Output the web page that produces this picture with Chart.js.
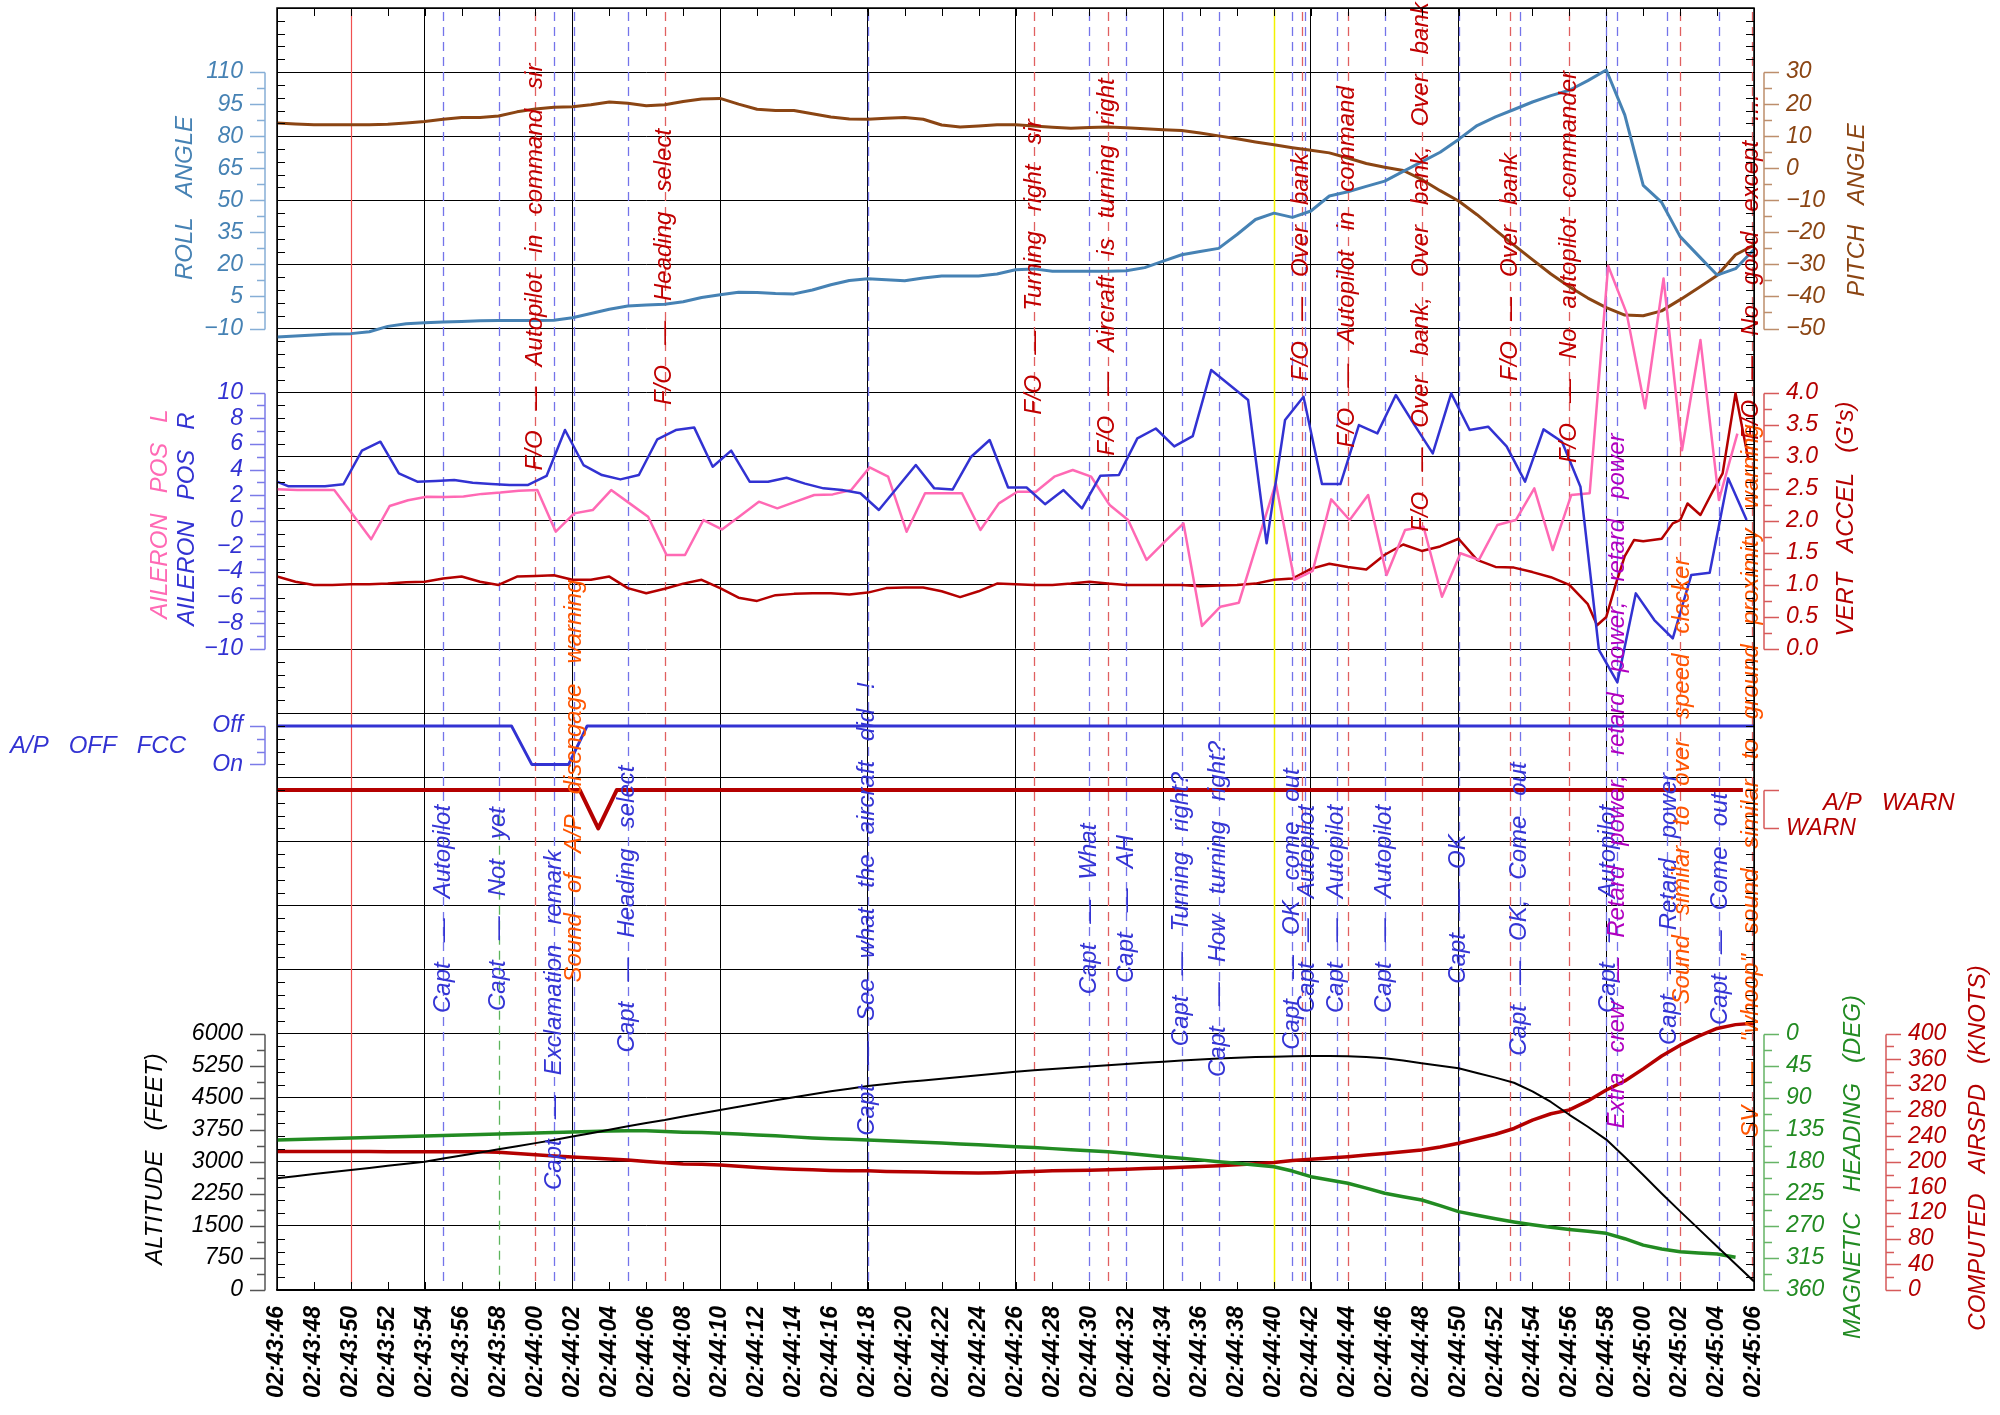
<!DOCTYPE html>
<html>
<head>
<meta charset="utf-8">
<title>FDR replay</title>
<script src="https://cdn.jsdelivr.net/npm/chart.js@4.4.1/dist/chart.umd.min.js"></script>
<style>
  html, body { margin: 0; padding: 0; background: #fff; }
  #wrap { width: 2000px; height: 1415px; }
</style>
</head>
<body>
<div id="wrap"><canvas id="fdr" width="2000" height="1415"></canvas></div>
<script>
// seconds after 02:43:46
const secs = Array.from({ length: 81 }, (_, i) => i);

const xTickLabels = ['02:43:46','02:43:48','02:43:50','02:43:52','02:43:54','02:43:56','02:43:58',
  '02:44:00','02:44:02','02:44:04','02:44:06','02:44:08','02:44:10','02:44:12','02:44:14','02:44:16',
  '02:44:18','02:44:20','02:44:22','02:44:24','02:44:26','02:44:28','02:44:30','02:44:32','02:44:34',
  '02:44:36','02:44:38','02:44:40','02:44:42','02:44:44','02:44:46','02:44:48','02:44:50','02:44:52',
  '02:44:54','02:44:56','02:44:58','02:45:00','02:45:02','02:45:04','02:45:06'];

const rollV = [-14,-13.5,-13,-12.6,-12.4,-11.5,-9,-7.8,-7.3,-7,
  -6.7,-6.4,-6.3,-6.3,-6.3,-6.1,-5,-3,-1,0.5,
  1,1.3,2.5,4.5,5.8,7,6.8,6.4,6.2,8,
  10.5,12.5,13.3,12.8,12.3,13.6,14.6,14.6,14.6,15.5,
  17.5,17.9,16.8,16.8,16.8,16.8,17,18.5,21.5,24.5,
  26,27.5,34,41,44,42,45,52,54,56.5,
  59,63.5,68,72.5,78.5,85,89,92.5,96,99,
  101.5,106,111,90,57,49,33,24,15,18,27];

const pitchV = [14.1,13.8,13.6,13.6,13.6,13.6,13.7,14.1,14.6,15.3,
  15.8,15.8,16.3,17.6,18.5,19,19.2,19.8,20.7,20.3,
  19.5,19.8,20.8,21.6,21.8,20,18.4,18,18,17,
  16,15.4,15.3,15.6,15.8,15.3,13.5,12.9,13.2,13.6,
  13.6,13.2,12.8,12.5,12.7,12.9,12.6,12.3,12,11.8,
  11,10.1,9.2,8.2,7.3,6.4,5.6,4.8,3.2,1.5,
  0.3,-0.7,-3.5,-7,-10.2,-14.5,-19.3,-24,-28.5,-33,
  -37,-40.5,-43.5,-45.8,-46,-44.5,-41,-37.3,-33.5,-27,-24];

const ailRT = [0].concat(Array.from({ length: 80 }, (_, k) => k + 0.6));
const ailRV = [3.05,
  2.7,2.7,2.7,2.85,5.47,6.17,3.7,3.05,3.1,3.18,
  2.97,2.87,2.8,2.8,3.5,7.08,4.35,3.57,3.23,3.57,
  6.36,7.08,7.27,4.22,5.47,3.05,3.05,3.36,2.9,2.53,
  2.4,2.15,0.84,2.6,4.35,2.53,2.45,5.0,6.3,2.6,
  2.6,1.3,2.4,0.97,3.52,3.57,6.43,7.2,5.8,6.6,
  11.76,10.6,9.42,-1.76,7.86,9.68,2.87,2.87,7.47,6.82,
  9.81,7.5,5.26,9.94,7.08,7.34,5.8,3.05,7.13,6.17,
  2.66,-10.07,-12.6,-5.66,-7.74,-9.17,-4.23,-4.05,3.31,0.06];

const ailLT = Array.from({ length: 80 }, (_, k) => (k === 0 ? 0 : k + 0.1));
const ailLV = [2.46,2.4,2.4,2.4,0.5,-1.44,1.15,1.6,1.88,1.85,
  1.9,2.1,2.2,2.35,2.4,-0.85,0.58,0.84,2.4,1.36,
  0.32,-2.67,-2.67,0.06,-0.67,0.4,1.49,0.97,1.5,2.01,
  2.06,2.4,4.17,3.44,-0.85,2.15,2.15,2.15,-0.72,1.36,
  2.27,2.27,3.44,3.96,3.44,1.23,0.06,-3.05,-1.6,-0.2,
  -8.2,-6.7,-6.39,-1.7,2.93,-4.6,-3.9,1.67,0.06,2.01,
  -4.23,-0.72,-0.46,-5.92,-2.53,-3.05,-0.33,0.06,2.53,-2.28,
  2.01,2.15,19.9,16.2,8.78,18.9,5.5,14.1,1.62,6.8];

const vaccT = Array.from({ length: 72 }, (_, i) => i)
  .concat([71.5,72,72.5,73,73.5,74,75,75.6,76,76.4,77.1,77.8,78.3,79,79.7]);
const vaccV = [1.13,1.05,1.0,1.0,1.01,1.01,1.02,1.04,1.05,1.1,
  1.13,1.05,1.0,1.13,1.14,1.15,1.08,1.08,1.13,0.95,
  0.87,0.94,1.02,1.08,0.95,0.8,0.75,0.84,0.86,0.87,
  0.87,0.85,0.88,0.95,0.96,0.96,0.9,0.81,0.9,1.02,
  1.01,1.0,1.0,1.02,1.05,1.02,1.0,1.0,1.0,1.0,
  0.98,0.99,1.0,1.02,1.08,1.1,1.25,1.33,1.28,1.24,
  1.47,1.63,1.53,1.6,1.72,1.39,1.28,1.27,1.2,1.12,
  1.0,0.7,
  0.37,0.5,1.0,1.45,1.7,1.68,1.72,1.96,2.01,2.27,2.09,2.48,2.74,3.99,2.95];

const apOffT = [0, 12.7, 13.8, 15.8, 16.8, 80];
const apOffV = [1, 1, 0, 0, 1, 1];          // 1 = Off, 0 = On
const apWarnT = [0, 16.4, 17.4, 18.4, 79.4];
const apWarnV = [0, 0, 1, 0, 0];            // 1 = WARN

const altV = [2614,2663,2712,2760,2808,2857,2905,2954,3003,3075,
  3148,3220,3292,3365,3437,3510,3590,3670,3750,3830,
  3910,3980,4060,4135,4212,4290,4365,4440,4510,4580,
  4650,4712,4774,4820,4865,4905,4945,4985,5025,5067,
  5109,5140,5170,5200,5230,5260,5290,5317,5343,5370,
  5395,5415,5435,5450,5460,5470,5475,5476,5470,5450,
  5422,5370,5305,5250,5188,5080,4970,4850,4650,4400,
  4100,3820,3520,3110,2690,2260,1840,1430,1020,610,200];

const hdgV = [149.4,148.8,148,147.3,146.6,146,145.3,144.5,143.8,143,
  142.2,141.5,140.8,140.1,139.5,139,138.3,137.5,136.8,136.3,
  136.5,137.5,138.5,139,140,141,142.5,143.5,145,146.5,
  147.5,148.5,149.4,150.5,151.5,152.5,153.7,155,156.2,157.5,
  158.8,160,161.5,163,164.5,165.8,168,170.5,172.8,175,
  177.3,179.8,182,184.5,186.9,193,200.9,205.5,210.2,217,
  224.2,229,233.6,241.5,250,255,260,264.5,268.5,272,
  275,277.5,280.4,288,297,302.5,306.2,308,309.5,314,null];

const spdV = [216,216,216,216,216,216,215.5,215.5,215.5,215.5,
  215.5,215.5,215,213,211,209,207.5,206,204.5,202.8,
  200.5,198.5,196.6,196,195,193,191,189.5,188.5,187.5,
  186.5,186,186,185,184.5,184,183.5,183,182.5,183,
  184,185,186,186.5,187,187.5,188.5,189.5,190.5,191.5,
  192.5,194,195.5,197,199,202,204,206,208,210.5,
  213,215.5,218.4,223,228.9,236,243,252,265,275,
  281,295,312,326,345,365,382,396,408,414,416];

// tick values on the side brackets
const rollTicks = [-10, 5, 20, 35, 50, 65, 80, 95, 110];
const pitchTicks = [-50, -40, -30, -20, -10, 0, 10, 20, 30];
const ailTicks = [-10, -8, -6, -4, -2, 0, 2, 4, 6, 8, 10];
const vaccTicks = [0, 0.5, 1, 1.5, 2, 2.5, 3, 3.5, 4];
const apTicks = [0, 1];
const apTickLabels = ['On', 'Off'];
const warnTicks = [0, 1];
const warnTickLabels = ['', 'WARN'];
const altTicks = [0, 750, 1500, 2250, 3000, 3750, 4500, 5250, 6000];
const hdgTicks = [0, 45, 90, 135, 180, 225, 270, 315, 360];
const spdTicks = [0, 40, 80, 120, 160, 200, 240, 280, 320, 360, 400];

// cockpit voice events
const redSolidTimes = [4];
const yellowTimes = [54];
const blueDashTimes = [9, 12, 15, 16.1, 19, 32, 44, 46, 49, 51, 55, 55.7, 57.4, 60, 64, 67.3, 72, 72.6, 75.3, 78.1];
const greenDashTimes = [12];
const redDashTimes = [14, 21, 41, 45, 55.5, 58, 62, 66.8, 70, 76, 79.9];

const foNoteTimes = [14, 21, 41, 45, 55.5, 58, 62, 66.8, 70, 79.85];
const foNotes = ['F/O — Autopilot in command sir', 'F/O — Heading select', 'F/O — Turning right sir',
  'F/O — Aircraft is turning right', 'F/O — Over bank', 'F/O — Autopilot in command',
  'F/O — Over bank, Over bank, Over bank', 'F/O — Over bank', 'F/O — No autopilot commander',
  'F/O — No good except ....'];
const captNoteTimes = [9, 12, 15, 19, 32, 44, 46, 49, 51, 55, 55.8, 57.4, 60, 64, 67.3, 72.1, 75.4, 78.2];
const captNotes = ['Capt — Autopilot', 'Capt — Not yet', 'Capt — Exclamation remark', 'Capt — Heading select',
  'Capt — See what the aircraft did !', 'Capt — What', 'Capt — AH', 'Capt — Turning right?',
  'Capt — How turning right?', 'Capt — OK come out', 'Capt — Autopilot', 'Capt — Autopilot',
  'Capt — Autopilot', 'Capt — OK', 'Capt — OK, Come out', 'Capt — Autopilot', 'Capt — Retard power',
  'Capt — Come out'];
const soundNoteTimes = [16.1, 76.1, 79.85];
const soundNotes = ['Sound of A/P disengage warning', 'Sound similar to over speed clacker',
  'SV — "whoop" sound similar to ground proximity warning'];
const crewNoteTimes = [72.6];
const crewNotes = ['Extra crew — Retard power, retard power, retard power'];

// ---------------------------------------------------------------------------
const FONT = "'Liberation Sans', Arial, Helvetica, sans-serif";
const it = (size, bold) => `${bold ? 'bold ' : ''}italic ${size}px ${FONT}`;
const STEEL = '#4682B4', BROWN = '#8B4513', PINK = '#FF69B4', BLUE = '#3232D2';
const DRED = '#B40000', GREEN = '#228B22';

const ROWS = 20;
// value at top row / bottom row of each panel band, in grid rows
function band(topVal, topRow, botVal, botRow) {
  const per = (botVal - topVal) / (botRow - topRow);
  const v0 = topVal - topRow * per;
  const vN = topVal + (ROWS - topRow) * per;
  return v0 > vN ? { min: vN, max: v0, reverse: false } : { min: v0, max: vN, reverse: true };
}
const hidden = (b) => Object.assign({ type: 'linear', axis: 'y', position: 'left', display: false }, b);

const pts = (ts, vs) => ts.map((t, i) => ({ x: t, y: vs[i] }));
const line = (data, axis, color, width) => ({
  data, yAxisID: axis, borderColor: color, borderWidth: width,
  pointRadius: 0, tension: 0, fill: false, spanGaps: true, borderJoinStyle: 'round'
});

const num = (v) => (v < 0 ? '\u2212' + Math.abs(v) : String(v));
const spaced = (s) => s.split(' ').join('   ');

function bracket(ctx, scale, o) {
  const dir = o.side === 'left' ? -1 : 1;
  const px = (v) => Math.round(scale.getPixelForValue(v)) + 0.5;
  const t = o.ticks;
  const minor = [];
  if (o.minorStep) {
    for (let i = 0; i < t.length - 1; i++) {
      for (let v = t[i] + o.minorStep; v < t[i + 1] - 1e-9; v += o.minorStep) minor.push(v);
    }
  }
  (o.minor || []).forEach((v) => minor.push(v));
  ctx.save();
  ctx.strokeStyle = o.line;
  ctx.lineWidth = 1.5;
  ctx.beginPath();
  ctx.moveTo(o.x, px(t[0]));
  ctx.lineTo(o.x, px(t[t.length - 1]));
  t.forEach((v) => { ctx.moveTo(o.x, px(v)); ctx.lineTo(o.x + dir * 15, px(v)); });
  minor.forEach((v) => { ctx.moveTo(o.x, px(v)); ctx.lineTo(o.x + dir * 8, px(v)); });
  ctx.stroke();
  ctx.fillStyle = o.color;
  ctx.font = it(23);
  ctx.textAlign = o.side === 'left' ? 'right' : 'left';
  ctx.textBaseline = 'middle';
  t.forEach((v, i) => {
    const lab = o.labels ? o.labels[i] : num(v);
    if (lab) ctx.fillText(lab, o.x + dir * 22, scale.getPixelForValue(v));
  });
  ctx.restore();
}

function vtext(ctx, text, x, y, color, font) {
  ctx.save();
  ctx.translate(x, y);
  ctx.rotate(-Math.PI / 2);
  ctx.font = font;
  ctx.fillStyle = color;
  ctx.textAlign = 'center';
  ctx.textBaseline = 'middle';
  ctx.fillText(spaced(text), 0, 0);
  ctx.restore();
}

const noteCentre = { fo: 267, capt: 909, sound: 781 };
const noteCentreOverride = { 'Capt — Exclamation remark': 1020 };

const overlay = {
  id: 'overlay',
  beforeDatasetsDraw(chart) {
    const ctx = chart.ctx, a = chart.chartArea, xs = chart.scales.x, rows = chart.scales.rows;
    const X = (t) => Math.round(xs.getPixelForValue(t)) + 0.5;
    const seg = (t, y1, y2, color, dash, w) => {
      ctx.save();
      ctx.strokeStyle = color; ctx.lineWidth = w; ctx.setLineDash(dash);
      ctx.beginPath(); ctx.moveTo(X(t), y1); ctx.lineTo(X(t), y2); ctx.stroke();
      ctx.restore();
    };
    const split = rows.getPixelForValue(12.6);
    blueDashTimes.forEach((t) => {
      const bottom = greenDashTimes.includes(t) ? split : a.bottom - 4;
      seg(t, a.top + 4, bottom, '#7474EA', [9, 6], 1.3);
    });
    greenDashTimes.forEach((t) => seg(t, split, a.bottom - 4, '#5DB55D', [9, 6], 1.3));
    redDashTimes.forEach((t) => seg(t, a.top + 4, a.bottom - 4, '#E06060', [9, 6], 1.3));
    redSolidTimes.forEach((t) => seg(t, a.top + 2, a.bottom - 6, '#F05050', [], 1.2));
    yellowTimes.forEach((t) => seg(t, a.top + 2, a.bottom - 2, '#F2F200', [], 1.5));
  },
  afterDatasetsDraw(chart) {
    const ctx = chart.ctx, xs = chart.scales.x;
    const put = (times, texts, kind, color) => texts.forEach((s, i) => {
      const y = noteCentreOverride[s] || noteCentre[kind];
      vtext(ctx, s, xs.getPixelForValue(times[i]), y, color, it(24));
    });
    put(foNoteTimes, foNotes, 'fo', '#C00000');
    put(captNoteTimes, captNotes, 'capt', '#3535D5');
    put(soundNoteTimes, soundNotes, 'sound', '#FF5500');
    put(crewNoteTimes, crewNotes, 'sound', '#B000C0');
  },
  afterDraw(chart) {
    const ctx = chart.ctx, a = chart.chartArea, s = chart.scales;
    // inner ticks on the frame
    ctx.save();
    ctx.strokeStyle = '#000';
    ctx.lineWidth = 1;
    ctx.beginPath();
    for (let r = 1; r < ROWS * 5; r++) {
      if (r % 5 === 0) continue;
      const y = Math.round(s.rows.getPixelForValue(r / 5)) + 0.5;
      ctx.moveTo(a.left, y); ctx.lineTo(a.left + 8, y);
      ctx.moveTo(a.right, y); ctx.lineTo(a.right - 8, y);
    }
    s.x.ticks.forEach((tk) => {
      const x = Math.round(s.x.getPixelForValue(tk.value)) + 0.5;
      ctx.moveTo(x, a.top); ctx.lineTo(x, a.top + 8);
      ctx.moveTo(x, a.bottom); ctx.lineTo(x, a.bottom - 8);
    });
    ctx.stroke();
    ctx.lineWidth = 1.5;
    ctx.strokeRect(a.left, a.top, a.right - a.left, a.bottom - a.top);
    ctx.restore();

    const L = 265, R = 1764, R2 = 1886;
    bracket(ctx, s.roll, { side: 'left', x: L, ticks: rollTicks, minorStep: 7.5, color: STEEL, line: '#86AED6' });
    bracket(ctx, s.ail, { side: 'left', x: L, ticks: ailTicks, minorStep: 1, color: BLUE, line: '#7B7BE8' });
    bracket(ctx, s.apoff, { side: 'left', x: L, ticks: apTicks, labels: apTickLabels, minor: [1 / 3, 2 / 3], color: BLUE, line: '#7B7BE8' });
    bracket(ctx, s.alt, { side: 'left', x: L, ticks: altTicks, minorStep: 375, color: '#000', line: '#555' });
    bracket(ctx, s.pitch, { side: 'right', x: R, ticks: pitchTicks, minorStep: 5, color: BROWN, line: '#BD8E6C' });
    bracket(ctx, s.vacc, { side: 'right', x: R, ticks: vaccTicks, labels: vaccTicks.map((v) => v.toFixed(1)), minorStep: 0.25, color: DRED, line: '#D65A5A' });
    bracket(ctx, s.warn, { side: 'right', x: R, ticks: warnTicks, labels: warnTickLabels, color: DRED, line: '#D65A5A' });
    bracket(ctx, s.hdg, { side: 'right', x: R, ticks: hdgTicks, minorStep: 22.5, color: GREEN, line: '#66B466' });
    bracket(ctx, s.spd, { side: 'right', x: R2, ticks: spdTicks, minorStep: 20, color: DRED, line: '#D65A5A' });

    const f = it(24);
    vtext(ctx, 'ROLL ANGLE', 185, 198, STEEL, f);
    vtext(ctx, 'AILERON POS L', 160, 514, PINK, f);
    vtext(ctx, 'AILERON POS R', 187, 519, BLUE, f);
    vtext(ctx, 'ALTITUDE (FEET)', 155, 1159, '#000', f);
    vtext(ctx, 'PITCH ANGLE', 1857, 210, BROWN, f);
    vtext(ctx, "VERT ACCEL (G's)", 1846, 519, DRED, f);
    vtext(ctx, 'MAGNETIC HEADING (DEG)', 1853, 1167, GREEN, f);
    vtext(ctx, 'COMPUTED AIRSPD (KNOTS)', 1978, 1148, DRED, f);
    ctx.save();
    ctx.font = f;
    ctx.textAlign = 'left';
    ctx.textBaseline = 'middle';
    ctx.fillStyle = BLUE;
    ctx.fillText(spaced('A/P OFF FCC'), 10, 746);
    ctx.fillStyle = DRED;
    ctx.fillText(spaced('A/P WARN'), 1823, 803);
    ctx.restore();
  }
};

new Chart(document.getElementById('fdr'), {
  type: 'line',
  data: {
    datasets: [
      line(pts(ailRT, ailRV), 'ail', BLUE, 2.5),
      line(pts(ailLT, ailLV), 'ail', PINK, 2.5),
      line(pts(vaccT, vaccV), 'vacc', DRED, 2.5),
      line(pts(secs, rollV), 'roll', STEEL, 3),
      line(pts(secs, pitchV), 'pitch', BROWN, 3),
      line(pts(apOffT, apOffV), 'apoff', BLUE, 3),
      line(pts(apWarnT, apWarnV), 'warn', DRED, 4),
      line(pts(secs, altV), 'alt', '#000', 2),
      line(pts(secs, hdgV), 'hdg', GREEN, 3.5),
      line(pts(secs, spdV), 'spd', DRED, 3.5)
    ]
  },
  options: {
    responsive: false,
    animation: false,
    events: [],
    layout: { padding: { left: 277, right: 246, top: 8, bottom: 0 } },
    plugins: { legend: { display: false }, tooltip: { enabled: false } },
    scales: {
      x: {
        type: 'linear', axis: 'x', position: 'bottom', min: 0, max: 80,
        afterFit: (sc) => { sc.height = 125; },
        ticks: {
          stepSize: 2, autoSkip: false, minRotation: 90, maxRotation: 90, padding: 16,
          color: '#000', font: { family: FONT, size: 23, style: 'italic', weight: 'bold' },
          callback: (v) => xTickLabels[Math.round(v / 2)]
        },
        grid: {
          drawTicks: false, lineWidth: 1,
          color: (c) => (c.tick && c.tick.value % 8 === 0 ? '#000' : 'rgba(0,0,0,0)')
        },
        border: { display: true, color: '#000', width: 1.5 }
      },
      rows: {
        type: 'linear', axis: 'y', position: 'left', min: 0, max: ROWS, reverse: true,
        afterFit: (sc) => { sc.width = 0; },
        ticks: { display: false, stepSize: 1 },
        grid: { drawTicks: false, color: '#000', lineWidth: 1 },
        border: { display: false }
      },
      roll: hidden(band(110, 1, -10, 5)),
      pitch: hidden(band(30, 1, -50, 5)),
      ail: hidden(band(10, 6, -10, 10)),
      vacc: hidden(band(4, 6, 0, 10)),
      apoff: hidden(band(1, 11.2, 0, 11.8)),
      warn: hidden(band(0, 12.2, 1, 12.8)),
      alt: hidden(band(6000, 16, 0, 20)),
      hdg: hidden(band(0, 16, 360, 20)),
      spd: hidden(band(400, 16, 0, 20))
    }
  },
  plugins: [overlay]
});
</script>
</body>
</html>
